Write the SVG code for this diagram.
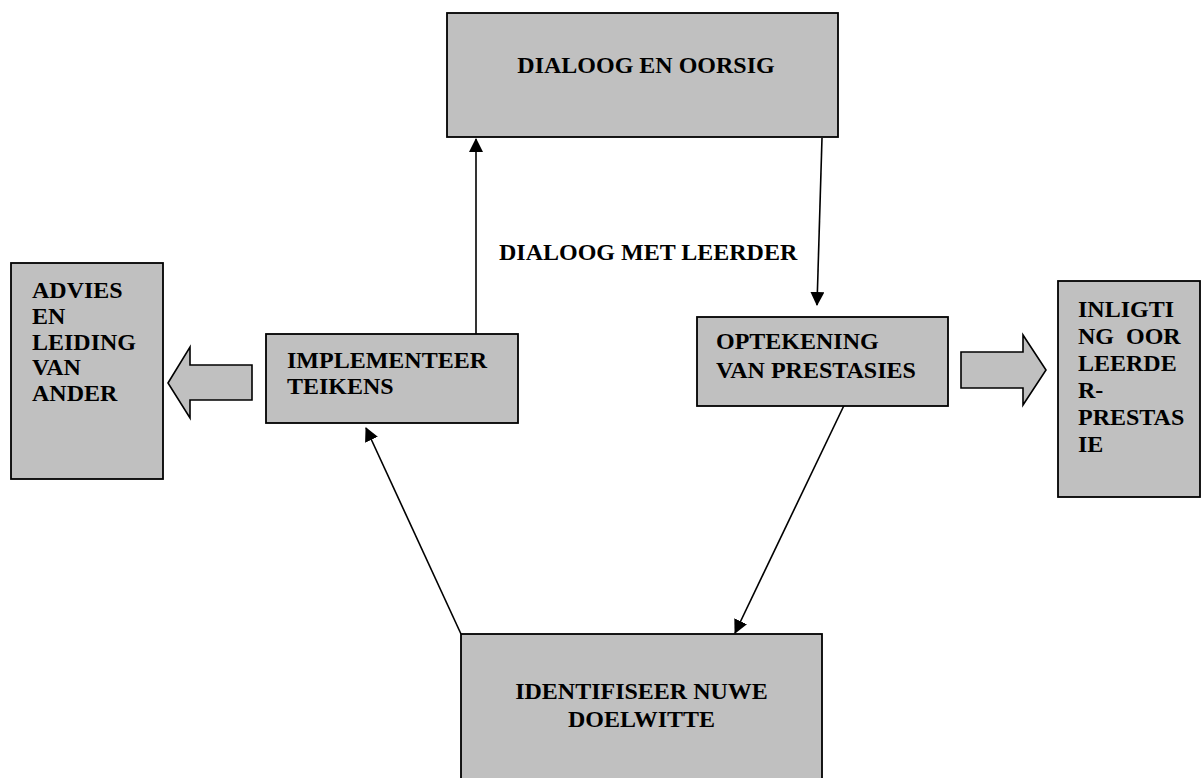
<svg xmlns="http://www.w3.org/2000/svg" width="1202" height="778" viewBox="0 0 1202 778">
  <style>
    .box { fill: #c0c0c0; stroke: #000; stroke-width: 1.8; }
    .blk { fill: #c0c0c0; stroke: #000; stroke-width: 1.6; stroke-linejoin: miter; }
    .lbl { font-family: "Liberation Serif", "Times New Roman", serif; font-weight: bold; font-size: 24px; fill: #000; }
    .mid { text-anchor: middle; }
    .conn { stroke: #000; stroke-width: 1.6; fill: none; marker-end: url(#head); }
  </style>
  <defs>
    <marker id="head" viewBox="0 0 14 14" refX="13" refY="7" markerWidth="14" markerHeight="14" markerUnits="userSpaceOnUse" orient="auto">
      <path d="M0,0 L14,7 L0,14 Z" fill="#000"/>
    </marker>
  </defs>
  <rect width="1202" height="778" fill="#fff"/>

  <!-- connectors: thin arrows of the cycle, then the two block arrows -->
  <g id="connectors">
    <line class="conn" x1="476" y1="334" x2="476" y2="139"/>
    <line class="conn" x1="822" y1="138" x2="817" y2="305"/>
    <line class="conn" x1="849" y1="395" x2="735" y2="633"/>
    <line class="conn" x1="461" y1="634" x2="366" y2="428"/>
    <polygon class="blk" points="168,383 190,347 190,365 252,365 252,400 190,400 190,418"/>
    <polygon class="blk" points="961,352 1023,352 1023,335 1046,370 1023,405 1023,388 961,388"/>
  </g>

  <g id="dialoog">
    <rect class="box" x="447" y="13" width="391" height="124"/>
    <text class="lbl mid" x="646" y="73">DIALOOG EN OORSIG</text>
  </g>

  <g id="dialoog-label">
    <text class="lbl" x="499" y="260">DIALOOG MET LEERDER</text>
  </g>

  <g id="advies">
    <rect class="box" x="11" y="263" width="152" height="216"/>
    <text class="lbl" x="32" y="298">ADVIES</text>
    <text class="lbl" x="32" y="324">EN</text>
    <text class="lbl" x="32" y="350">LEIDING</text>
    <text class="lbl" x="32" y="375">VAN</text>
    <text class="lbl" x="32" y="401">ANDER</text>
  </g>

  <g id="implementeer">
    <rect class="box" x="266" y="334" width="252" height="89"/>
    <text class="lbl" x="287" y="368">IMPLEMENTEER</text>
    <text class="lbl" x="287" y="394">TEIKENS</text>
  </g>

  <g id="optekening">
    <rect class="box" x="697" y="317" width="251" height="89"/>
    <text class="lbl" x="716" y="349">OPTEKENING</text>
    <text class="lbl" x="716" y="378">VAN PRESTASIES</text>
  </g>

  <g id="inligting">
    <rect class="box" x="1058" y="281" width="142" height="216"/>
    <text class="lbl" x="1078" y="317">INLIGTI</text>
    <text class="lbl" x="1078" y="344" xml:space="preserve">NG  OOR</text>
    <text class="lbl" x="1078" y="371">LEERDE</text>
    <text class="lbl" x="1078" y="398">R-</text>
    <text class="lbl" x="1078" y="425">PRESTAS</text>
    <text class="lbl" x="1078" y="452">IE</text>
  </g>

  <g id="identifiseer">
    <rect class="box" x="461" y="634" width="361" height="170"/>
    <text class="lbl mid" x="641.5" y="699">IDENTIFISEER NUWE</text>
    <text class="lbl mid" x="641.5" y="727">DOELWITTE</text>
  </g>
</svg>
